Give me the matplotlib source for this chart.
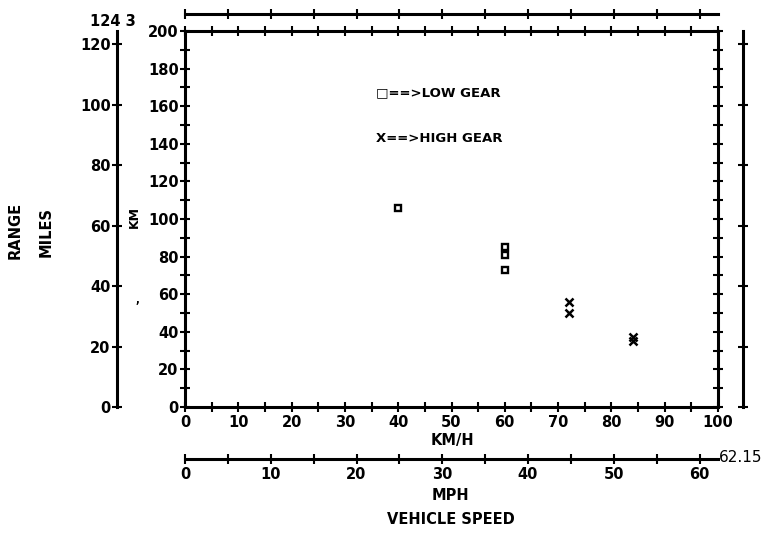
import matplotlib
matplotlib.use('Agg')
import matplotlib.pyplot as plt
from matplotlib.ticker import FixedLocator, NullLocator

# ---- data ----
low_kmh = [40, 60, 60, 60]
low_km = [106, 85, 81, 73]
high_kmh = [72, 72, 84, 84]
high_km = [56, 50, 37, 35]

kmh_major = [0, 10, 20, 30, 40, 50, 60, 70, 80, 90, 100]
kmh_minor = [5, 15, 25, 35, 45, 55, 65, 75, 85, 95]
km_major = [0, 20, 40, 60, 80, 100, 120, 140, 160, 180, 200]
km_minor = [10, 30, 50, 70, 90, 110, 130, 150, 170, 190]
miles_ticks = [0, 20, 40, 60, 80, 100, 120]
miles_max = 124.3
mph_major = [0, 10, 20, 30, 40, 50, 60]
mph_minor = [5, 15, 25, 35, 45, 55]
mph_max = 62.15

W, H = 774, 535
fig = plt.figure(figsize=(W / 100, H / 100), dpi=100)
PT = 72 / 100  # points per pixel


def fx(px):
    return px / W


def fy(py):
    return 1 - py / H


L, R, T, B = 185, 718, 31, 407
rect = [L / W, 1 - B / H, (R - L) / W, (B - T) / H]

FONT = dict(family='DejaVu Sans', weight='bold')
LW = 2.2
TL = 10 * PT

# ---- main axes (km/h vs km) ----
ax = fig.add_axes(rect)
ax.set_xlim(0, 100)
ax.set_ylim(0, 200)
for s in ax.spines.values():
    s.set_linewidth(LW)
ax.xaxis.set_major_locator(FixedLocator(kmh_major))
ax.xaxis.set_minor_locator(FixedLocator(kmh_minor))
ax.yaxis.set_major_locator(FixedLocator(km_major))
ax.yaxis.set_minor_locator(FixedLocator(km_minor))
ax.set_xticklabels([str(v) for v in kmh_major], **FONT)
ax.set_yticklabels([str(v) for v in km_major], **FONT)
ax.tick_params(which='both', direction='inout', length=TL, width=1.5,
               top=True, right=True, labelsize=10.5, pad=1)
ax.tick_params(axis='x', pad=2)

ax.plot(low_kmh, low_km, 's', mfc='none', mec='k', ms=5, mew=1.7, zorder=5)
ax.plot(high_kmh, high_km, 'x', color='k', ms=6, mew=1.8, zorder=5)

# ---- miles axes (left and right) ----
axm = fig.add_axes(rect, facecolor='none')
axm.set_ylim(0, miles_max)
axm.xaxis.set_major_locator(NullLocator())
axm.spines['top'].set_visible(False)
axm.spines['bottom'].set_visible(False)
axm.spines['left'].set_position(('outward', 68 * PT))
axm.spines['right'].set_position(('outward', 25 * PT))
axm.spines['left'].set_linewidth(LW)
axm.spines['right'].set_linewidth(LW)
axm.yaxis.set_major_locator(FixedLocator(miles_ticks))
axm.set_yticklabels([str(v) for v in miles_ticks], **FONT)
axm.tick_params(axis='y', direction='inout', length=TL, width=1.5,
                left=True, right=True, labelleft=True, labelright=False,
                labelsize=10.5, pad=1)

# ---- mph axes (bottom and top) ----
axp = fig.add_axes(rect, facecolor='none')
axp.set_xlim(0, mph_max)
axp.yaxis.set_major_locator(NullLocator())
axp.spines['left'].set_visible(False)
axp.spines['right'].set_visible(False)
axp.spines['bottom'].set_position(('outward', 52 * PT))
axp.spines['top'].set_position(('outward', 17 * PT))
axp.spines['bottom'].set_linewidth(LW)
axp.spines['top'].set_linewidth(LW)
axp.xaxis.set_major_locator(FixedLocator(mph_major))
axp.xaxis.set_minor_locator(FixedLocator(mph_minor))
axp.set_xticklabels([str(v) for v in mph_major], **FONT)
axp.tick_params(axis='x', which='both', direction='inout', length=TL, width=1.5,
                top=True, bottom=True, labeltop=False, labelbottom=True,
                labelsize=10.5, pad=2)

# ---- texts ----
fig.text(fx(90), fy(21), '124 3', ha='left', va='center', fontsize=10.5, **FONT)
fig.text(fx(719), fy(457), '62.15', ha='left', va='center', fontsize=11, family='DejaVu Sans')
fig.text(fx(452), fy(440), 'KM/H', ha='center', va='center', fontsize=10.5, **FONT)
fig.text(fx(450), fy(496), 'MPH', ha='center', va='center', fontsize=10.5, **FONT)
fig.text(fx(451), fy(520), 'VEHICLE SPEED', ha='center', va='center', fontsize=10.5, **FONT)
fig.text(fx(15), fy(230), 'RANGE', ha='center', va='center', rotation=90, fontsize=10.5, **FONT)
fig.text(fx(46), fy(232), 'MILES', ha='center', va='center', rotation=90, fontsize=10.5, **FONT)
fig.text(fx(134), fy(217), 'KM', ha='center', va='center', rotation=90, fontsize=9, **FONT)
fig.text(fx(137), fy(300), ',', ha='center', va='center', fontsize=7, **FONT)
fig.text(fx(376), fy(93), '□==>LOW GEAR', ha='left', va='center', fontsize=9.5, **FONT)
fig.text(fx(376), fy(138), 'X==>HIGH GEAR', ha='left', va='center', fontsize=9.5, **FONT)

fig.savefig('out.png', dpi=100)
